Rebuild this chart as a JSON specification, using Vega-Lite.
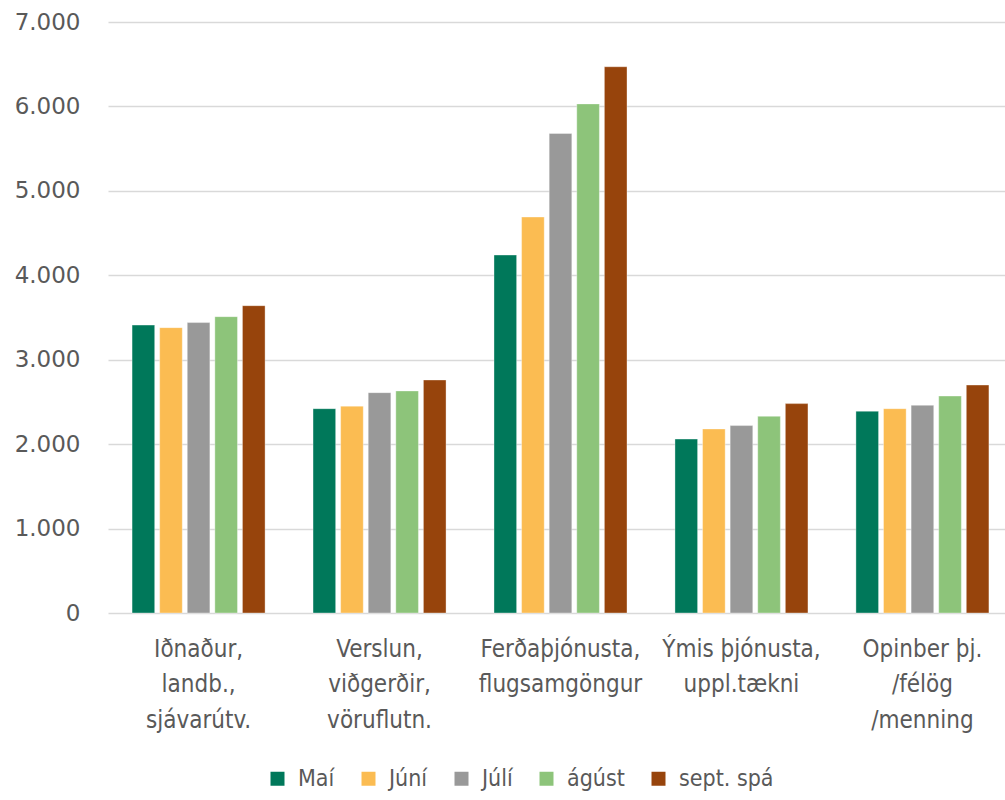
{
  "$schema": "https://vega.github.io/schema/vega-lite/v6.json",
  "width": 897,
  "height": 591,
  "autosize": {"type": "none"},
  "padding": {"left": 108, "top": 22, "right": 0, "bottom": 187},
  "background": "white",
  "config": {
    "view": {"stroke": null},
    "font": "DejaVu Sans Condensed, sans-serif",
    "axis": {"labelFont": "DejaVu Sans Condensed, sans-serif", "labelColor": "#595959"},
    "legend": {"labelFont": "DejaVu Sans Condensed, sans-serif", "labelColor": "#595959"}
  },
  "data": {
    "values": [
      {"grein": "Iðnaður,|landb.,|sjávarútv.", "manudur": "Maí", "fjoldi": 3410},
      {"grein": "Iðnaður,|landb.,|sjávarútv.", "manudur": "Júní", "fjoldi": 3380},
      {"grein": "Iðnaður,|landb.,|sjávarútv.", "manudur": "Júlí", "fjoldi": 3440},
      {"grein": "Iðnaður,|landb.,|sjávarútv.", "manudur": "ágúst", "fjoldi": 3510},
      {"grein": "Iðnaður,|landb.,|sjávarútv.", "manudur": "sept. spá", "fjoldi": 3640},
      {"grein": "Verslun,|viðgerðir,|vöruflutn.", "manudur": "Maí", "fjoldi": 2420},
      {"grein": "Verslun,|viðgerðir,|vöruflutn.", "manudur": "Júní", "fjoldi": 2450},
      {"grein": "Verslun,|viðgerðir,|vöruflutn.", "manudur": "Júlí", "fjoldi": 2610},
      {"grein": "Verslun,|viðgerðir,|vöruflutn.", "manudur": "ágúst", "fjoldi": 2630},
      {"grein": "Verslun,|viðgerðir,|vöruflutn.", "manudur": "sept. spá", "fjoldi": 2760},
      {"grein": "Ferðaþjónusta,|flugsamgöngur", "manudur": "Maí", "fjoldi": 4240},
      {"grein": "Ferðaþjónusta,|flugsamgöngur", "manudur": "Júní", "fjoldi": 4690},
      {"grein": "Ferðaþjónusta,|flugsamgöngur", "manudur": "Júlí", "fjoldi": 5680},
      {"grein": "Ferðaþjónusta,|flugsamgöngur", "manudur": "ágúst", "fjoldi": 6030},
      {"grein": "Ferðaþjónusta,|flugsamgöngur", "manudur": "sept. spá", "fjoldi": 6470},
      {"grein": "Ýmis þjónusta,|uppl.tækni", "manudur": "Maí", "fjoldi": 2060},
      {"grein": "Ýmis þjónusta,|uppl.tækni", "manudur": "Júní", "fjoldi": 2180},
      {"grein": "Ýmis þjónusta,|uppl.tækni", "manudur": "Júlí", "fjoldi": 2220},
      {"grein": "Ýmis þjónusta,|uppl.tækni", "manudur": "ágúst", "fjoldi": 2330},
      {"grein": "Ýmis þjónusta,|uppl.tækni", "manudur": "sept. spá", "fjoldi": 2480},
      {"grein": "Opinber þj.|/félög|/menning", "manudur": "Maí", "fjoldi": 2390},
      {"grein": "Opinber þj.|/félög|/menning", "manudur": "Júní", "fjoldi": 2420},
      {"grein": "Opinber þj.|/félög|/menning", "manudur": "Júlí", "fjoldi": 2460},
      {"grein": "Opinber þj.|/félög|/menning", "manudur": "ágúst", "fjoldi": 2570},
      {"grein": "Opinber þj.|/félög|/menning", "manudur": "sept. spá", "fjoldi": 2700}
    ]
  },
  "mark": {"type": "bar", "stroke": "white", "strokeWidth": 0.6, "strokeOpacity": 0.6},
  "encoding": {
    "x": {
      "field": "grein",
      "type": "nominal",
      "sort": null,
      "scale": {"paddingInner": 0.265, "paddingOuter": 0.133, "range": [0, 905]},
      "axis": {
        "title": null,
        "labelAngle": 0,
        "labelExpr": "split(datum.label, '|')",
        "labelFontSize": 24,
        "labelLineHeight": 35.5,
        "labelPadding": 36,
        "labelBaseline": "middle",
        "ticks": false,
        "domain": false,
        "labelLimit": 300,
        "labelOverlap": false
      }
    },
    "xOffset": {
      "field": "manudur",
      "type": "nominal",
      "sort": ["Maí", "Júní", "Júlí", "ágúst", "sept. spá"],
      "scale": {"paddingInner": 0.18}
    },
    "y": {
      "field": "fjoldi",
      "type": "quantitative",
      "scale": {"domain": [0, 7000], "nice": false},
      "axis": {
        "title": null,
        "values": [0, 1000, 2000, 3000, 4000, 5000, 6000, 7000],
        "labelExpr": "replace(format(datum.value, ','), ',', '.')",
        "labelFont": "DejaVu Sans, sans-serif",
        "labelFontSize": 23,
        "labelPadding": 28,
        "ticks": false,
        "domain": false,
        "gridColor": "#d9d9d9",
        "gridWidth": 1.5
      }
    },
    "color": {
      "field": "manudur",
      "type": "nominal",
      "sort": ["Maí", "Júní", "Júlí", "ágúst", "sept. spá"],
      "scale": {
        "domain": ["Maí", "Júní", "Júlí", "ágúst", "sept. spá"],
        "range": ["#00785A", "#FBBC52", "#999999", "#8DC47A", "#97440C"]
      },
      "legend": {
        "title": null,
        "orient": "none",
        "direction": "horizontal",
        "legendX": 158,
        "legendY": 745,
        "symbolType": "square",
        "symbolSize": 196,
        "symbolStrokeWidth": 0,
        "labelFontSize": 23,
        "columnPadding": 22,
        "labelOffset": 9
      }
    }
  }
}
